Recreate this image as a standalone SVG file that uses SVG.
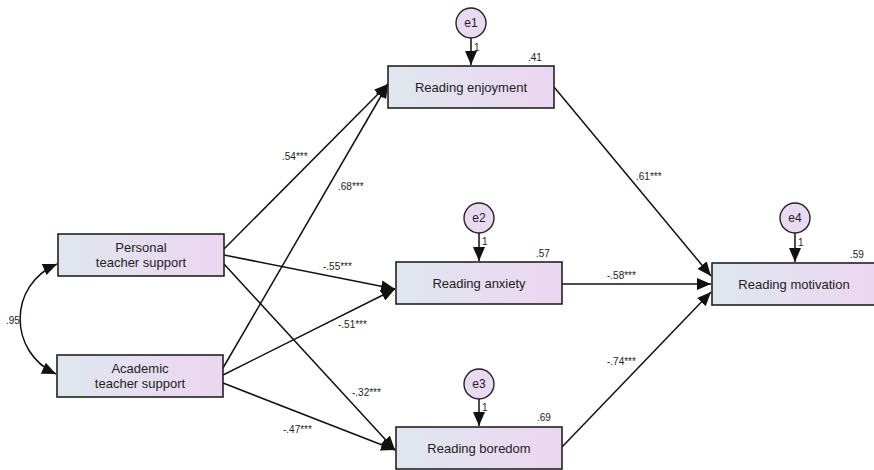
<svg xmlns="http://www.w3.org/2000/svg" width="874" height="470" viewBox="0 0 874 470">
<style>
.box{stroke:#222;stroke-width:1.6;fill:url(#g)}
.err{stroke:#222;stroke-width:1.4;fill:#e9d9f1}
.t{font-family:"Liberation Sans",Arial,sans-serif;font-size:13px;fill:#222;text-anchor:middle}
.lbl{font-family:"Liberation Sans",Arial,sans-serif;font-size:10px;fill:#222}
.e{font-family:"Liberation Sans",Arial,sans-serif;font-size:12px;fill:#222;text-anchor:middle}
.c{stroke:#111;stroke-width:1.5;fill:none}
</style>
<defs>
<linearGradient id="g" x1="0" y1="0" x2="1" y2="0">
<stop offset="0" stop-color="#dfe7ee"/>
<stop offset="1" stop-color="#ecd6f1"/>
</linearGradient>
<marker id="ah" markerUnits="userSpaceOnUse" markerWidth="16" markerHeight="12" refX="14" refY="6" orient="auto">
<path d="M0,0 L14,6 L0,12 Z" fill="#111"/>
</marker>
<marker id="ahs" markerUnits="userSpaceOnUse" markerWidth="16" markerHeight="12" refX="14" refY="6" orient="auto-start-reverse">
<path d="M0,0 L14,6 L0,12 Z" fill="#111"/>
</marker>
</defs>
<rect width="874" height="470" fill="#fff"/>
<g id="connectors">
<path class="c" d="M57,264 C8,285 8,352 56,374" marker-start="url(#ahs)" marker-end="url(#ah)"/>
<line class="c" x1="224" y1="249" x2="388" y2="84" marker-end="url(#ah)"/>
<line class="c" x1="223" y1="368" x2="388" y2="84" marker-end="url(#ah)"/>
<line class="c" x1="224" y1="255" x2="395" y2="289" marker-end="url(#ah)"/>
<line class="c" x1="223" y1="375" x2="395" y2="289" marker-end="url(#ah)"/>
<line class="c" x1="224" y1="264" x2="395" y2="450" marker-end="url(#ah)"/>
<line class="c" x1="223" y1="383" x2="395" y2="450" marker-end="url(#ah)"/>
<line class="c" x1="554" y1="87" x2="711" y2="276" marker-end="url(#ah)"/>
<line class="c" x1="562" y1="284" x2="711" y2="284" marker-end="url(#ah)"/>
<line class="c" x1="562" y1="447" x2="711" y2="292" marker-end="url(#ah)"/>
<line class="c" x1="471" y1="38" x2="471" y2="65" marker-end="url(#ah)"/>
<line class="c" x1="479" y1="233" x2="479" y2="261" marker-end="url(#ah)"/>
<line class="c" x1="479" y1="399" x2="479" y2="426" marker-end="url(#ah)"/>
<line class="c" x1="795" y1="233" x2="795" y2="262" marker-end="url(#ah)"/>
<text class="lbl" x="6" y="324">.95</text>
<text class="lbl" x="282" y="160">.54***</text>
<text class="lbl" x="338" y="190">.68***</text>
<text class="lbl" x="323" y="270">-.55***</text>
<text class="lbl" x="338" y="328">-.51***</text>
<text class="lbl" x="352" y="396">-.32***</text>
<text class="lbl" x="283" y="433">-.47***</text>
<text class="lbl" x="636" y="180">.61***</text>
<text class="lbl" x="607" y="279">-.58***</text>
<text class="lbl" x="607" y="365">-.74***</text>
</g>
<g id="personal">
<rect class="box" x="58" y="234" width="166" height="42"/>
<text class="t" x="141" y="252">Personal</text>
<text class="t" x="141" y="267">teacher support</text>
</g>
<g id="academic">
<rect class="box" x="57" y="355" width="166" height="42"/>
<text class="t" x="140" y="373">Academic</text>
<text class="t" x="140" y="388">teacher support</text>
</g>
<g id="enjoyment">
<rect class="box" x="388" y="66" width="166" height="42"/>
<text class="t" x="471" y="92">Reading enjoyment</text>
<text class="lbl" x="528" y="61">.41</text>
</g>
<g id="anxiety">
<rect class="box" x="396" y="262" width="166" height="42"/>
<text class="t" x="479" y="288">Reading anxiety</text>
<text class="lbl" x="536" y="257">.57</text>
</g>
<g id="boredom">
<rect class="box" x="396" y="427" width="166" height="42"/>
<text class="t" x="479" y="453">Reading boredom</text>
<text class="lbl" x="537" y="421">.69</text>
</g>
<g id="motivation">
<rect class="box" x="712" y="263" width="166" height="42"/>
<text class="t" x="794" y="289">Reading motivation</text>
<text class="lbl" x="850" y="258">.59</text>
</g>
<g id="e1">
<circle class="err" cx="471" cy="23" r="15"/>
<text class="e" x="471" y="27">e1</text>
<text class="lbl" x="474" y="51">1</text>
</g>
<g id="e2">
<circle class="err" cx="479" cy="218" r="15"/>
<text class="e" x="479" y="222">e2</text>
<text class="lbl" x="482" y="245">1</text>
</g>
<g id="e3">
<circle class="err" cx="479" cy="384" r="15"/>
<text class="e" x="479" y="388">e3</text>
<text class="lbl" x="482" y="411">1</text>
</g>
<g id="e4">
<circle class="err" cx="795" cy="218" r="15"/>
<text class="e" x="795" y="222">e4</text>
<text class="lbl" x="798" y="246">1</text>
</g>
</svg>
